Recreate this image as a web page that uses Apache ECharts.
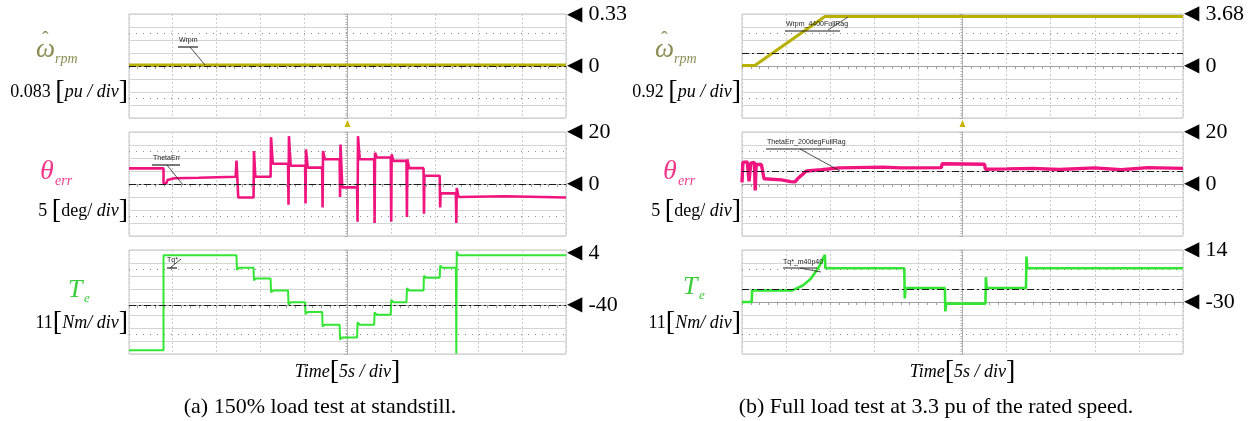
<!DOCTYPE html>
<html><head><meta charset="utf-8">
<script src="https://cdn.jsdelivr.net/npm/echarts/dist/echarts.min.js"></script>
<style>html,body{margin:0;padding:0;background:#fff}#c{width:1255px;height:421px}</style>
</head><body><div id="c"></div>
<script>
// ---------------- data (time in s, 5 s/div, 10 div) ----------------
const omegaA = [[0,0.006],[50,0.006]];
const thetaA = [[0,6],[3.95,6],[3.95,0.2],[4.3,0.4],[4.4,1.5],[5.2,2.2],[8,2.4],[12.2,2.8],[12.3,9],[12.4,2],[12.5,-5.2],[14.25,-5.2],[14.3,12.7],[14.45,2.8],[16.2,2.8],[16.25,18],[16.45,7.8],[18.2,7.8],[18.25,-8],[18.3,18.4],[18.5,7],[20.15,7],[20.2,-7.5],[20.25,13.3],[20.45,6.3],[22.1,6.3],[22.15,-9],[22.2,12.7],[22.4,9.5],[24.1,9.5],[24.15,-5],[24.2,15.2],[24.4,-1.3],[26.1,-1.3],[26.15,-14.5],[26.2,18.4],[26.4,9.5],[28.05,9.5],[28.1,-15],[28.15,12],[28.35,10.2],[29.95,10.2],[30,-14.5],[30.05,11.4],[30.25,8.9],[31.75,8.9],[31.8,-12.7],[31.85,9.5],[32.05,6.1],[33.7,6.1],[33.75,-11.4],[33.8,3.2],[35.55,3.2],[35.6,-9],[35.65,-3.6],[37.4,-3.6],[37.45,-15],[37.5,-1.5],[37.7,-5],[43,-4.7],[50,-5.2]];
const teA = [[0,-78],[3.95,-78],[3.95,2.3],[12.3,2.3],[12.35,-10],[12.6,-8.2],[14.25,-8.2],[14.3,-19],[14.5,-17.3],[16.2,-17.3],[16.25,-29],[16.5,-27.5],[18.2,-27.5],[18.25,-39.5],[18.5,-37.4],[20.15,-37.4],[20.2,-47.5],[20.45,-45.7],[22.1,-45.7],[22.15,-58],[22.4,-56.5],[24.1,-56.5],[24.15,-69],[24.4,-67.3],[26.1,-67.3],[26.15,-54.5],[26.4,-56.5],[28.05,-56.5],[28.1,-46],[28.35,-48],[29.95,-48],[30,-35.5],[30.25,-37.4],[31.75,-37.4],[31.8,-25.5],[32.05,-27.5],[33.7,-27.5],[33.75,-15],[34,-16.7],[35.55,-16.7],[35.6,-6.5],[35.85,-8.2],[37.4,-8.2],[37.45,-81],[37.5,5.5],[37.7,2.3],[50,2.3]];

const omegaB = [[0,0.03],[1.45,0.03],[9.4,3.5],[50,3.5]];
const thetaB = [[0,0.6],[0.1,8.3],[0.6,8.5],[0.8,1],[1,8],[1.4,8.3],[1.5,-2.5],[1.6,7.5],[2.2,7.5],[2.5,2],[4.5,1.6],[5.5,0.9],[6,0.8],[6.3,2],[7.3,5],[9,5.5],[11,6.2],[16,6.5],[18,6.2],[22.6,6.3],[22.7,7.8],[27.5,7.6],[27.6,5.7],[30,5.8],[33,6],[36,5.6],[40,6.2],[43,5.5],[46,6.3],[50,6]];
const teB = [[0,-30],[1.1,-30],[1.15,-20.2],[5.7,-20.2],[6.9,-16],[7.8,-10.4],[8.7,-0.6],[9.4,10],[9.45,-1.4],[18.4,-1.4],[18.45,-27],[18.55,-18.2],[23,-18.2],[23.05,-38],[23.15,-31.4],[27.6,-31.4],[27.65,-9],[27.75,-18.2],[32.2,-18.2],[32.25,8.4],[32.35,-1.4],[50,-1.4]];

// axis ranges per panel [min, max, per-div]
const rangesA = [[-0.332,0.332,0.083],[-20,20,5],[-81.25,6.75,11]];
const rangesB = [[-3.68,3.68,0.92],[-20,20,5],[-74,14,11]];
// right-hand level markers [top label value, zero-level value]
const markersA = [[0.33,0],[20,0],[4,-40]];
const markersB = [[3.68,0],[20,0],[14,-30]];
// dash-dot reference levels
const refA = [0,0,-40];
const refB = [0.92,5,-19];
const unitsA = ['0.083','5','11'];
const unitsB = ['0.92','5','11'];
const captions = ['(a) 150% load test at standstill.','(b) Full load test at 3.3 pu of the rated speed.'];

// ---------------- layout / style ----------------
const FONT = '"Liberation Serif","Times New Roman",serif';
const COL = {w:'#b8b000', th:'#f0147f', te:'#33e633'};
const LCOL = {w:'#8c8c52', th:'#f0388a', te:'#3acb3a'};
const SIDES = [{left:129,width:437,ranges:rangesA,markers:markersA,ref:refA,data:[omegaA,thetaA,teA],cap:320,tw:[3,2.6,2]},
               {left:742,width:441,ranges:rangesB,markers:markersB,ref:refB,data:[omegaB,thetaB,teB],cap:936,tw:[3,3.4,2.6]}];
const TOPS = [14,132,250], H = 104;
const traceCol = [COL.w, COL.th, COL.te];

const grids=[], xAxes=[], yAxes=[], series=[];
let idx=0;
SIDES.forEach((s,si)=>{
  for(let r=0;r<3;r++){
    const [mn,mx,dv]=s.ranges[r];
    const zeroVal = s.markers[r][1];
    const yOff = -H*(zeroVal-mn)/(mx-mn);
    grids.push({left:s.left,top:TOPS[r],width:s.width,height:H,show:true,borderColor:'#c4c4c4',borderWidth:1});
    xAxes.push({gridIndex:idx,type:'value',min:0,max:50,interval:5,position:'bottom',offset:yOff,
      axisLine:{show:true,onZero:false,lineStyle:{color:'#a0a0a0',width:1}},
      axisTick:{show:true,length:3,lineStyle:{color:'#a0a0a0'}},
      minorTick:{show:true,splitNumber:5,length:3,lineStyle:{color:'#a0a0a0'}},
      axisLabel:{show:false},
      splitLine:{show:true,lineStyle:{color:'#cdcdcd',type:[2,2],width:1}}});
    yAxes.push({gridIndex:idx,type:'value',min:mn,max:mx,interval:dv,position:'left',offset:-s.width/2,
      axisLine:{show:true,onZero:false,lineStyle:{color:'#b0b0b0',width:1}},
      axisTick:{show:true,length:3,lineStyle:{color:'#b0b0b0'}},
      minorTick:{show:true,splitNumber:5,length:2,lineStyle:{color:'#b0b0b0'}},
      axisLabel:{show:false},
      splitLine:{show:true,lineStyle:{color:'#d4d4d4',width:1}}});
    const ctr=(mn+mx)/2;
    const mk=[];
    mk.push({yAxis:ctr+2.5*dv,lineStyle:{type:[1,6],color:'#8a8a8a',width:1},label:{show:false}});
    mk.push({yAxis:ctr-2.5*dv,lineStyle:{type:[1,6],color:'#8a8a8a',width:1},label:{show:false}});
    mk.push({yAxis:s.ref[r],lineStyle:{type:[7,3,2,3],color:'#1a1a1a',width:1.2},label:{show:false}});
    s.markers[r].forEach(v=>{
      mk.push({yAxis:v,lineStyle:{color:'rgba(0,0,0,0)',width:0},label:{show:true,position:'end',distance:1,
        formatter:'{t|\u25C0}{v|'+v+'}',color:'#000',opacity:1,
        rich:{t:{fontFamily:'DejaVu Sans',fontSize:20,color:'#000'},
              v:{fontFamily:FONT,fontSize:22,color:'#000',padding:[0,0,0,6]}}}});
    });
    series.push({type:'line',xAxisIndex:idx,yAxisIndex:idx,data:s.data[r],symbol:'none',showSymbol:false,
      lineStyle:{color:traceCol[r],width:s.tw[r]},itemStyle:{color:traceCol[r]},z:3,animation:false,
      markLine:{silent:true,symbol:'none',animation:false,precision:4,data:mk}});
    idx++;
  }
});

// ---------------- text / decorations ----------------
const G=[];
function txt(x,y,text,font,fill,align){ return {type:'text',x:x,y:y,silent:true,z:10,
  style:{text:text,font:font,fill:fill,align:align||'left',verticalAlign:'middle',textAlign:align||'left',textVerticalAlign:'middle'}}; }
function rich(x,y,text,align){ return {type:'text',x:x,y:y,silent:true,z:10,
  style:{text:text,align:align,verticalAlign:'middle',textAlign:align,textVerticalAlign:'middle',
   rich:{n:{fontFamily:FONT,fontSize:18,fill:'#000',color:'#000'},
         i:{fontFamily:FONT,fontStyle:'italic',fontSize:18,fill:'#000',color:'#000'},
         b:{fontFamily:FONT,fontSize:28,fill:'#000',color:'#000'}}}}; }
function line(x1,y1,x2,y2,w){ return {type:'line',silent:true,z:10,shape:{x1:x1,y1:y1,x2:x2,y2:y2},style:{stroke:'#222',lineWidth:w||0.8}}; }

const symX=[[36,40,68],[655,663,683]];
SIDES.forEach((s,si)=>{
  const sx=symX[si];
  G.push(txt(sx[0],50,'\u03C9','italic 27px '+FONT,LCOL.w));
  G.push(txt(sx[0]+6,41,'\u02C6','20px '+FONT,LCOL.w));
  G.push(txt(sx[0]+19,59,'rpm','italic 14px '+FONT,LCOL.w));
  G.push(txt(sx[1],172,'\u03B8','italic 28px '+FONT,LCOL.th));
  G.push(txt(sx[1]+15,181,'err','italic 14px '+FONT,LCOL.th));
  G.push(txt(sx[2],si?287:290,'T','italic 26px '+FONT,LCOL.te));
  G.push(txt(sx[2]+16,si?296:299,'e','italic 13px '+FONT,LCOL.te));
  const rx=s.left-1;
  const u=si?unitsB:unitsA;
  G.push(rich(rx,92,'{n|'+u[0]+' }{b|[}{i|pu / div}{b|]}','right'));
  G.push(rich(rx,211,'{n|'+u[1]+' }{b|[}{n|deg/ }{i|div}{b|]}','right'));
  G.push(rich(rx,323,'{n|'+u[2]+'}{b|[}{i|Nm/ div}{b|]}','right'));
  const cx=s.left+s.width/2;
  G.push(rich(cx,372,'{i|Time}{b|[}{i|5s / div}{b|]}','center'));
  G.push(txt(s.cap,407,captions[si],'22px '+FONT,'#000','center'));
  G.push({type:'polygon',silent:true,z:10,shape:{points:[[cx-3,127],[cx+3,127],[cx,120]]},style:{fill:'#c8b400'}});
});
// small trace tags
const tagFont='7px "Liberation Sans",Arial,sans-serif';
G.push(txt(179,40,'Wrpm',tagFont,'#222'));
G.push(line(178,47,198,47,1.2)); G.push(line(190,47,205,65));
G.push(txt(153,158,'ThetaErr',tagFont,'#222'));
G.push(line(152,165,180,165,1.2)); G.push(line(167,165,183,185));
G.push(txt(167,260,'Tq*',tagFont,'#222'));
G.push(line(167,268,177,268,1.2)); G.push(line(170,268,181,259));
G.push(txt(786,24,'Wrpm_4400FullRag',tagFont,'#222'));
G.push(line(785,31,840,31,1.2)); G.push(line(828,30,848,17));
G.push(txt(767,142,'ThetaErr_200degFullRag',tagFont,'#222'));
G.push(line(766,149,832,149,1.2)); G.push(line(800,149,840,171));
G.push(txt(783,262,'Tq*_m40p40',tagFont,'#222'));
G.push(line(783,268,817,268,1.2)); G.push(line(800,268,821,272));

const chart=echarts.init(document.getElementById('c'),null,{renderer:'canvas'});
chart.setOption({animation:false,backgroundColor:'#fff',grid:grids,xAxis:xAxes,yAxis:yAxes,series:series,graphic:G});
</script></body></html>
